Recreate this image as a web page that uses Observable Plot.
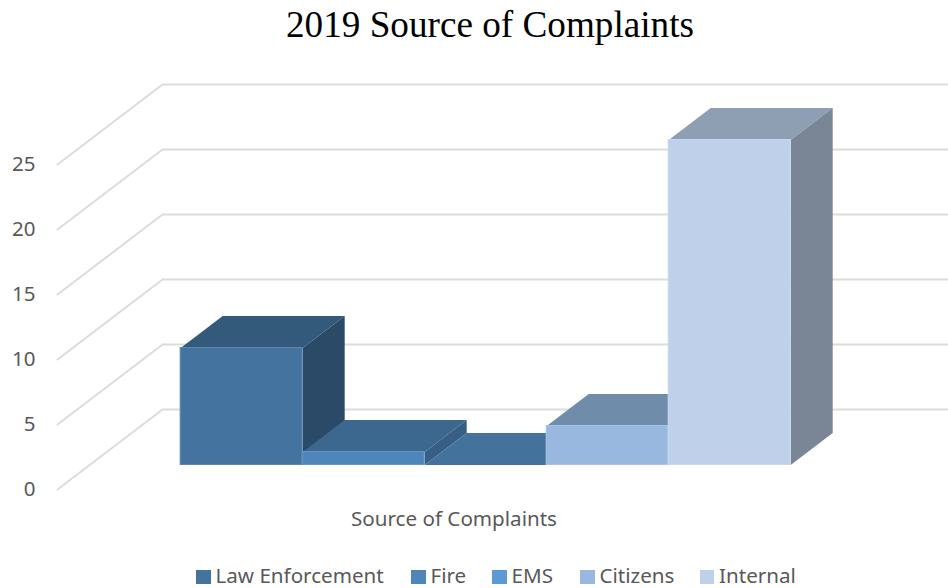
<!DOCTYPE html>
<html>
<head>
<meta charset="utf-8">
<script src="https://cdn.jsdelivr.net/npm/d3@7"></script>
<script src="https://cdn.jsdelivr.net/npm/@observablehq/plot@0.6"></script>
<style>
html,body{margin:0;padding:0;background:#fff;overflow:hidden;width:948px;height:588px}
#title{font-family:"Liberation Serif",serif;font-size:37.2px;color:#000;height:70px;line-height:50px;width:980px;text-align:center;white-space:nowrap}
#chart svg{display:block}
#caption{position:absolute;left:0;top:495px;font-family:"Noto Sans",sans-serif;font-size:20.6px;color:#595959;height:46px;line-height:46px;width:908px;text-align:center}
#legend{position:absolute;left:0;top:557px;height:36px;font-family:"Noto Sans",sans-serif;font-size:20.6px;color:#595959;width:948px}
.item{position:absolute;top:0;line-height:36px;white-space:nowrap}
.sw{display:inline-block;width:14.5px;height:14.5px;margin-right:5px;vertical-align:-1px}
</style>
</head>
<body>
<div id="title">2019 Source of Complaints</div>
<div id="chart"></div>
<div id="caption">Source of Complaints</div>
<div id="legend"></div>
<script>
const categories = ["Law Enforcement", "Fire", "EMS", "Citizens", "Internal"];
const values = [9, 1, 0, 3, 25];
const tickValues = [0, 5, 10, 15, 20, 25];
const frontColors = ["#44739f", "#4e86bc", "#5b9bd5", "#98b8e0", "#bfd0ea"];
const edgeColors = ["#5d88b0", "#6496c6", "#5b9bd5", "#a9c4e6", "#c9d8ee"];
const topColors = ["#335a7b", "#3c6890", "#43729d", "#6f8cab", "#8e9fb3"];
const sideColors = ["#2b4a68", "#375f85", "#406d96", "#66809e", "#7a8696"];
const legendLeft = [196, 411, 492, 580, 699.5];

// oblique projection: depth t runs from the front of the floor (0) to the back wall (1)
const dxPerDepth = 0.861, dyPerDepth = 6.154;
const barFront = 0.306, barBack = 0.706;
const xMin = -0.746, xMax = 6.557;
const px = (u, t) => u + t * dxPerDepth;
const py = (v, t) => v + t * dyPerDepth;
const pt = (u, v, t) => ({x: px(u, t), y: py(v, t)});

const gridLines = tickValues.map(v => [
  {x: xMin, y: py(v, 0)},
  {x: xMin + dxPerDepth, y: py(v, 1)},
  {x: xMax, y: py(v, 1)}
]);

const marks = [];
gridLines.forEach(g => marks.push(Plot.line(g, {x: "x", y: "y", stroke: "#dcdcdc", strokeWidth: 2})));

values.forEach((v, i) => {
  const top = [pt(i, v, barFront), pt(i + 1, v, barFront), pt(i + 1, v, barBack), pt(i, v, barBack)];
  const side = [pt(i + 1, 0, barFront), pt(i + 1, v, barFront), pt(i + 1, v, barBack), pt(i + 1, 0, barBack)];
  marks.push(Plot.line(top, {x: "x", y: "y", fill: topColors[i], stroke: "none"}));
  if (v > 0) {
    marks.push(Plot.line(side, {x: "x", y: "y", fill: sideColors[i], stroke: "none"}));
    marks.push(Plot.rect([v], {
      x1: () => px(i, barFront), x2: () => px(i + 1, barFront),
      y1: () => py(0, barFront), y2: d => py(d, barFront),
      fill: frontColors[i], stroke: edgeColors[i], strokeWidth: 1
    }));
  }
});

marks.push(Plot.axisY(tickValues, {
  anchor: "left", tickSize: 0, tickPadding: 22, label: null,
  fontSize: 20.5, fill: "#595959", fontFamily: "Noto Sans"
}));

const chart = Plot.plot({
  width: 948, height: 445,
  marginLeft: 57, marginRight: 0, marginTop: 10, marginBottom: 26,
  style: {background: "transparent", fontFamily: "Noto Sans"},
  x: {domain: [xMin, xMax], axis: null},
  y: {domain: [0, 31.46]},
  marks
});
document.getElementById("chart").appendChild(chart);

const legend = document.getElementById("legend");
categories.forEach((c, i) => {
  const it = document.createElement("div");
  it.className = "item";
  it.style.left = legendLeft[i] + "px";
  const s = document.createElement("span");
  s.className = "sw";
  s.style.background = frontColors[i];
  it.appendChild(s);
  it.appendChild(document.createTextNode(c));
  legend.appendChild(it);
});
</script>
</body>
</html>
